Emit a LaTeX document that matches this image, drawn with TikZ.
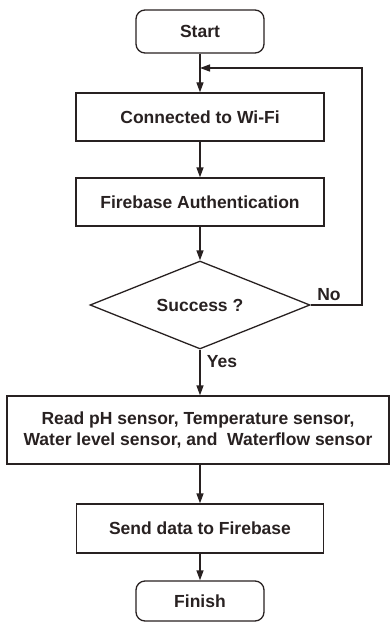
\documentclass[tikz,border=0pt]{standalone}
\usepackage{fontspec}
\setmainfont{Liberation Sans}
\usetikzlibrary{shapes.geometric,arrows.meta}
\definecolor{inkclr}{RGB}{40,33,33}
\tikzset{
  base/.style={draw=inkclr,line width=1.3pt,text=inkclr,font=\fontsize{17.5pt}{21pt}\selectfont\bfseries,align=center,inner sep=0pt},
  terminal/.style={base,rounded corners=9pt,minimum width=128pt,minimum height=43pt},
  process/.style={base,minimum width=248pt,minimum height=48pt},
  decision/.style={base,diamond,minimum width=220pt,minimum height=88pt,aspect=2.5},
  flow/.style={draw=inkclr,line width=1.3pt,-{Triangle[length=10pt,width=7pt]}},
  tag/.style={text=inkclr,font=\fontsize{17.5pt}{21pt}\selectfont\bfseries,inner sep=0pt}
}
\begin{document}
\begin{tikzpicture}[x=1pt,y=-1pt]
            \useasboundingbox (0,0) rectangle (390,623);
            \node[terminal] (start) at (200,31.5) {Start};
            \node[process] (wifi) at (200,117) {Connected to Wi-Fi};
            \node[process] (auth) at (200,202) {Firebase Authentication};
            \node[decision] (succ) at (200,305) {Success ?};
            \node[process,minimum width=382pt,minimum height=68pt] (read) at (198,430)
                {Read pH sensor, Temperature sensor,\\Water level sensor, and~ Waterflow sensor};
            \node[process,minimum width=247pt,minimum height=49pt] (send) at (200,528.5) {Send data to Firebase};
            \node[terminal,minimum height=40pt] (finish) at (200,601) {Finish};
            \coordinate (join) at (200,68);
            \coordinate (back) at (362,68);
            \draw[flow] (start) -- (wifi);
            \draw[flow] (wifi) -- (auth);
            \draw[flow] (auth) -- (succ);
            \draw[flow] (succ) -- (succ |- read.north);
            \draw[flow] (send |- read.south) -- (send);
            \draw[flow] (send) -- (finish);
            \draw[flow] (succ.east) -| (back) -- (join);
            \node[tag] (no) at (329,295) {No};
            \node[tag] (yes) at (222,362) {Yes};
        \end{tikzpicture}
\end{document}
